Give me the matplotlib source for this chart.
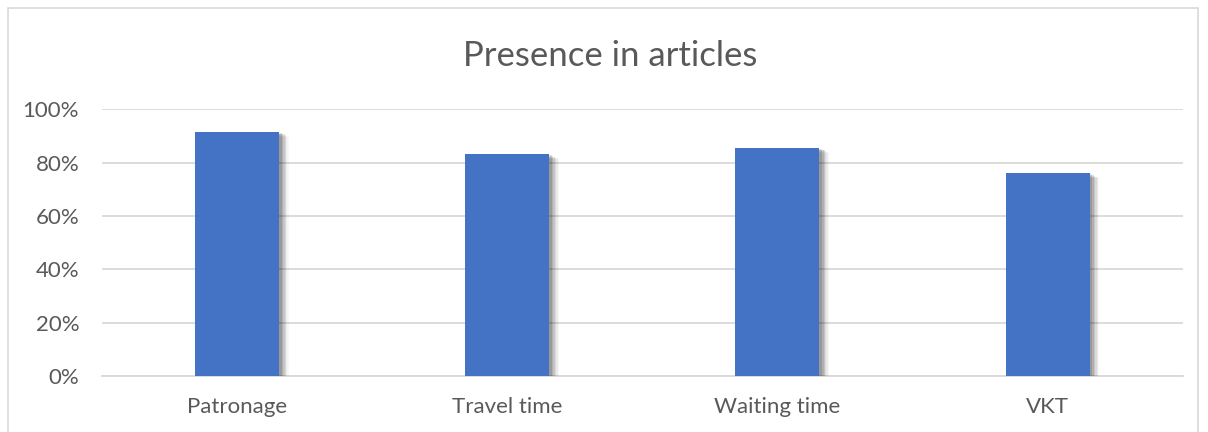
import matplotlib
matplotlib.use("Agg")
import matplotlib.pyplot as plt
import matplotlib.patheffects as pe
from matplotlib.patches import Rectangle
from matplotlib.ticker import PercentFormatter

categories = ["Patronage", "Travel time", "Waiting time", "VKT"]
values = [0.916, 0.832, 0.856, 0.761]
yticks = [0, 0.2, 0.4, 0.6, 0.8, 1.0]

plt.rcParams['font.family'] = ['Lato', 'DejaVu Sans']
text_color = "#595959"

fig = plt.figure(figsize=(12.08, 4.32), dpi=100)
ax = fig.add_axes([0.0845, 0.1296, 0.979 - 0.0845, 0.747 - 0.1296])

shadow = [pe.SimplePatchShadow(offset=(d, -d * 0.5), shadow_rgbFace="black", alpha=a)
          for d, a in [(7, 0.03), (6, 0.05), (5, 0.07), (4, 0.09), (3, 0.11), (2, 0.12)]] + [pe.Normal()]
bars = ax.bar(range(len(categories)), values, width=0.311, color="#4472C4", zorder=3)
for b in bars:
    b.set_path_effects(shadow)

ax.set_xlim(-0.5, len(categories) - 0.5)
ax.set_ylim(0, 1.0)
ax.set_yticks(yticks)
ax.yaxis.set_major_formatter(PercentFormatter(1.0, decimals=0))
ax.set_xticks(range(len(categories)))
ax.set_xticklabels(categories)
ax.grid(axis="y", color="#D9D9D9", linewidth=1.3, zorder=0)
ax.set_axisbelow(True)
for s in ["top", "right", "left"]:
    ax.spines[s].set_visible(False)
ax.spines["bottom"].set_color("#D9D9D9")
ax.spines["bottom"].set_linewidth(1.3)
ax.tick_params(axis="both", length=0, labelsize=16, colors=text_color)
ax.tick_params(axis="y", pad=16.5)
ax.tick_params(axis="x", pad=15)

fig.text(0.5054, 0.87, "Presence in articles", ha="center", va="center",
         fontsize=25, color=text_color)

fig.patches.append(Rectangle((8 / 1208, -0.01), 1190 / 1208, 1 - 8 / 432 + 0.01,
                             transform=fig.transFigure, fill=False,
                             edgecolor="#D9D9D9", linewidth=1.2))

fig.savefig("out.png", dpi=100)
